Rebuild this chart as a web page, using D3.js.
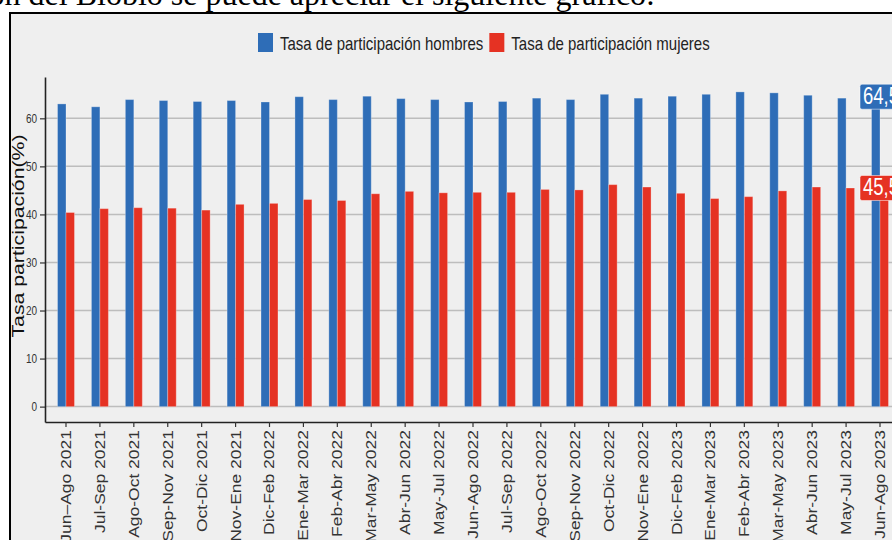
<!DOCTYPE html>
<html>
<head>
<meta charset="utf-8">
<script src="https://cdn.jsdelivr.net/npm/d3@7"></script>
<style>
  html, body { margin: 0; padding: 0; background: #ffffff; }
  svg { display: block; }
</style>
</head>
<body>
<svg id="chart" width="892" height="540"></svg>
<script>
// Trimestres móviles
const categories = [
  "Jun–Ago 2021", "Jul-Sep 2021", "Ago-Oct 2021", "Sep-Nov 2021", "Oct-Dic 2021",
  "Nov-Ene 2021", "Dic-Feb 2022", "Ene-Mar 2022", "Feb-Abr 2022", "Mar-May 2022",
  "Abr-Jun 2022", "May-Jul 2022", "Jun-Ago 2022", "Jul-Sep 2022", "Ago-Oct 2022",
  "Sep-Nov 2022", "Oct-Dic 2022", "Nov-Ene 2022", "Dic-Feb 2023", "Ene-Mar 2023",
  "Feb-Abr 2023", "Mar-May 2023", "Abr-Jun 2023", "May-Jul 2023", "Jun-Ago 2023"
];

// Tasa de participación (%)
const hombres = [
  63.0, 62.4, 63.9, 63.7, 63.5, 63.7, 63.4, 64.5, 63.9, 64.6,
  64.1, 63.9, 63.4, 63.5, 64.2, 63.9, 65.0, 64.2, 64.6, 65.0,
  65.5, 65.3, 64.8, 64.2, 64.5
];
const mujeres = [
  40.4, 41.2, 41.4, 41.3, 40.9, 42.1, 42.3, 43.1, 42.9, 44.3,
  44.8, 44.5, 44.6, 44.6, 45.2, 45.1, 46.2, 45.7, 44.4, 43.3,
  43.7, 44.9, 45.7, 45.5, 45.5
];

const seriesNames = ["Tasa de participación hombres", "Tasa de participación mujeres"];
const yTicks = [0, 10, 20, 30, 40, 50, 60];

const colors = ["#2e6db7", "#e53223"];
const FONT = "'Liberation Sans', Arial, sans-serif";
const STRETCH = 1.25; // tall, narrow lettering

const svg = d3.select("#chart");

// Line of document text above the figure
svg.append("text")
  .attr("x", 655).attr("y", 5)
  .attr("text-anchor", "end")
  .attr("font-family", "'Liberation Serif', 'Times New Roman', serif")
  .attr("font-size", 32)
  .attr("fill", "#000")
  .text("región del Biobío se puede apreciar el siguiente gráfico:");

// Figure panel
svg.append("rect")
  .attr("x", 10).attr("y", 13)
  .attr("width", 900).attr("height", 560)
  .attr("fill", "#efefef")
  .attr("stroke", "#000")
  .attr("stroke-width", 2);

const left = 45, axisBottom = 422, axisTop = 77;

const y = d3.scaleLinear().domain([-3.2, 68.6]).range([axisBottom, axisTop]);
const x = d3.scaleBand().domain(categories).range([left, 901])
  .paddingInner(0.5).paddingOuter(0.369);
const xs = d3.scaleBand().domain([0, 1]).range([0, x.bandwidth()]);

// Grid lines
svg.append("g")
  .selectAll("line")
  .data(yTicks)
  .join("line")
  .attr("x1", left).attr("x2", 892)
  .attr("y1", d => y(d)).attr("y2", d => y(d))
  .attr("stroke", "#bdbdbd")
  .attr("stroke-width", 1.5);

// Bars
const groups = svg.append("g")
  .selectAll("g")
  .data(categories)
  .join("g")
  .attr("transform", d => `translate(${x(d)},0)`);

groups.selectAll("rect")
  .data((d, i) => [hombres[i], mujeres[i]])
  .join("rect")
  .attr("x", (d, j) => xs(j))
  .attr("width", xs.bandwidth())
  .attr("y", d => y(d))
  .attr("height", d => y(0) - y(d))
  .attr("fill", (d, j) => colors[j])
  .attr("stroke", "rgba(255,255,255,0.28)")
  .attr("stroke-width", 1);

// Y axis
const gy = svg.append("g")
  .attr("transform", `translate(${left},0)`)
  .call(d3.axisLeft(y).tickValues(yTicks).tickSize(5).tickSizeOuter(0).tickPadding(3));
gy.select(".domain").attr("stroke", "#222").attr("stroke-width", 1.6);
gy.selectAll(".tick line").attr("stroke", "#333").attr("stroke-width", 1.2);
gy.selectAll(".tick text")
  .attr("font-family", FONT).attr("font-size", 10).attr("fill", "#333")
  .attr("dy", "0.3em")
  .attr("transform", `scale(1,${STRETCH})`);

// X axis
const gx = svg.append("g")
  .attr("transform", `translate(0,${axisBottom})`)
  .call(d3.axisBottom(x).tickSize(5).tickSizeOuter(0));
gx.select(".domain").attr("stroke", "#222").attr("stroke-width", 1.6);
gx.selectAll(".tick line").attr("stroke", "#333").attr("stroke-width", 1.2);
gx.selectAll(".tick text")
  .attr("font-family", FONT).attr("font-size", 14).attr("fill", "#333")
  .attr("text-anchor", "end")
  .attr("x", 0).attr("y", 0).attr("dy", 0)
  .attr("transform", `translate(5,8) rotate(-90) scale(${STRETCH},1)`);

// Y axis title
svg.append("text")
  .attr("transform", `translate(24,236) rotate(-90) scale(${STRETCH},1)`)
  .attr("text-anchor", "middle")
  .attr("font-family", FONT).attr("font-size", 17).attr("fill", "#111")
  .text("Tasa participación(%)");

// Legend
const legend = svg.append("g");
let lx = 258;
seriesNames.forEach((name, j) => {
  legend.append("rect")
    .attr("x", lx).attr("y", 33)
    .attr("width", 15).attr("height", 19)
    .attr("fill", colors[j]);
  const t = legend.append("text")
    .attr("transform", `translate(${lx + 22},49.5) scale(1,${STRETCH})`)
    .attr("font-family", FONT).attr("font-size", 15).attr("fill", "#222")
    .text(name);
  lx += 22 + t.node().getComputedTextLength() + 6;
});

// Value labels for the latest period
const last = categories.length - 1;
const lastVals = [hombres[last], mujeres[last]];
const fmt = v => d3.format(".1f")(v).replace(".", ",");
lastVals.forEach((v, j) => {
  const cy = y(v);
  const lab = svg.append("g").attr("transform", `translate(860,${cy})`);
  lab.append("rect")
    .attr("x", 0).attr("y", -12.5)
    .attr("width", 46).attr("height", 25)
    .attr("rx", 2)
    .attr("fill", colors[j])
    .attr("stroke", "rgba(255,255,255,0.5)");
  lab.append("text")
    .attr("transform", `translate(3,7.5) scale(1,${STRETCH})`)
    .attr("font-family", FONT).attr("font-size", 18.5).attr("fill", "#fff")
    .text(fmt(v));
});
</script>
</body>
</html>
